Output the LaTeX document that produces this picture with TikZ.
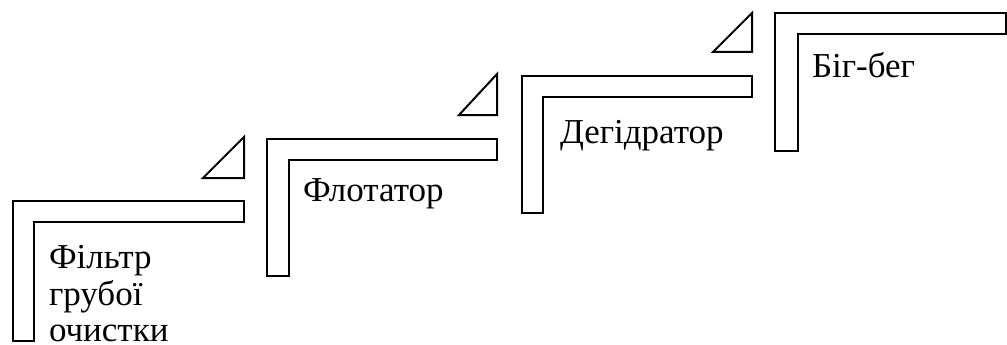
\documentclass[tikz,border=0pt]{standalone}
\usepackage{fontspec}
\setmainfont{Liberation Serif}
\begin{document}
\begin{tikzpicture}[x=1pt,y=-1pt,
  stage/.style={draw=black,line width=2pt,line join=miter,fill=white},
  wedge/.style={draw=black,line width=2pt,line join=miter},
  lbl/.style={anchor=base west,inner sep=0pt,outer sep=0pt,align=left,
    font=\fontsize{35}{36.5}\selectfont}]
\useasboundingbox (0,0) rectangle (1007,345);
% stage 1
\draw[stage] (13,201) -- (244,201) -- (244,222) -- (34,222) -- (34,341) -- (13,341) -- cycle;
\draw[wedge] (203,178) -- (244,178) -- (244,137) -- cycle;
\node[lbl] (filtr) at (49,341.5) {Фільтр\\грубої\\очистки};
% stage 2
\draw[stage] (267,139) -- (497,139) -- (497,160) -- (289,160) -- (289,276) -- (267,276) -- cycle;
\draw[wedge] (459,115) -- (497,115) -- (497,74) -- cycle;
\node[lbl] (flot) at (303,201.5) {Флотатор};
% stage 3
\draw[stage] (522,76) -- (752,76) -- (752,97) -- (543,97) -- (543,213) -- (522,213) -- cycle;
\draw[wedge] (713,52) -- (752,52) -- (752,13) -- cycle;
\node[lbl] (degid) at (560,143) {Дегідратор};
% stage 4
\draw[stage] (775,13) -- (1006,13) -- (1006,34) -- (798,34) -- (798,151) -- (775,151) -- cycle;
\node[lbl] (big) at (812,77.5) {Біг-бег};
\end{tikzpicture}
\end{document}
